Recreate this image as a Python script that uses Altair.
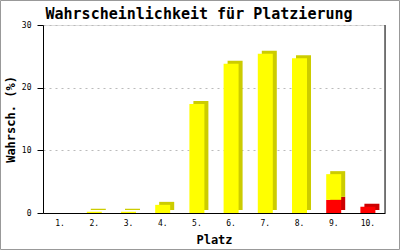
import altair as alt
import pandas as pd

platz = ["1.", "2.", "3.", "4.", "5.", "6.", "7.", "8.", "9.", "10."]
gelb = [0, 0.2, 0.2, 1.3, 17.4, 23.8, 25.4, 24.7, 4.1, 0]
rot = [0, 0, 0, 0, 0, 0, 0, 0, 2.1, 1.0]
y_ticks = [0, 10, 20, 30]
titel = "Wahrscheinlichkeit für Platzierung"

rows = []
for p, g, r in zip(platz, gelb, rot):
    rows.append({"platz": p, "serie": "rot", "ord": 0, "wert": r})
    rows.append({"platz": p, "serie": "gelb", "ord": 1, "wert": g})
df = pd.DataFrame(rows)

FONT = "DejaVu Sans Mono"
W, H = 342, 188

x_enc = alt.X("platz:N", sort=platz,
              scale=alt.Scale(domain=platz, paddingInner=0, paddingOuter=0),
              axis=alt.Axis(title="Platz", ticks=False, labelAngle=0, labelPadding=6,
                            domainColor="black", grid=False,
                            labelFont=FONT, labelFontSize=8, labelColor="black",
                            titleFont=FONT, titleFontSize=12, titleFontWeight="bold",
                            titleColor="black", titlePadding=7))
y_enc = alt.Y("wert:Q", stack="zero",
              scale=alt.Scale(domain=[0, 30], nice=False),
              axis=alt.Axis(title="Wahrsch. (%)", values=y_ticks, tickSize=6,
                            tickColor="black", domainColor="black",
                            grid=True, gridColor="#bbbbbb", gridDash=[2, 4],
                            labelFont=FONT, labelFontSize=8, labelColor="black",
                            labelPadding=6,
                            titleFont=FONT, titleFontSize=12, titleFontWeight="bold",
                            titleColor="black", titlePadding=4))

base = alt.Chart(df).transform_filter("datum.wert > 0")

back = base.transform_calculate(
    dunkel="datum.serie == 'rot' ? '#cc0000' : '#cccc00'"
).mark_bar(size=15, xOffset=4, yOffset=-3).encode(
    x=x_enc, y=y_enc,
    color=alt.Color("dunkel:N", scale=None),
    order=alt.Order("ord:Q"),
)

front = base.mark_bar(size=15).encode(
    x=x_enc, y=y_enc,
    color=alt.Color("serie:N", scale=alt.Scale(domain=["rot", "gelb"], range=["#ff0000", "#ffff00"]), legend=None),
    order=alt.Order("ord:Q"),
)

one = alt.Chart(pd.DataFrame({"t": [titel]}))
right_line = one.mark_rule(color="black", strokeWidth=1).encode(
    x=alt.value(W), y=alt.value(0), y2=alt.value(H))
frame = one.mark_rect(fill=None, stroke="#999999", strokeWidth=1, clip=False).encode(
    x=alt.value(-42.5), x2=alt.value(356.5), y=alt.value(-24.5), y2=alt.value(224.5))
title_txt = one.mark_text(font=FONT, fontSize=15, fontWeight="bold", color="black",
                          align="center", baseline="alphabetic").encode(
    x=alt.value(156), y=alt.value(-6), text="t:N")

chart = alt.layer(back, front, right_line, frame, title_txt).properties(
    width=W, height=H,
    autosize=alt.AutoSizeParams(type="none"),
    padding={"left": 43, "top": 25, "right": 15, "bottom": 37},
).configure_view(stroke=None).configure(background="white")

chart.save("out.html", embed_options={"renderer": "svg", "actions": False})
